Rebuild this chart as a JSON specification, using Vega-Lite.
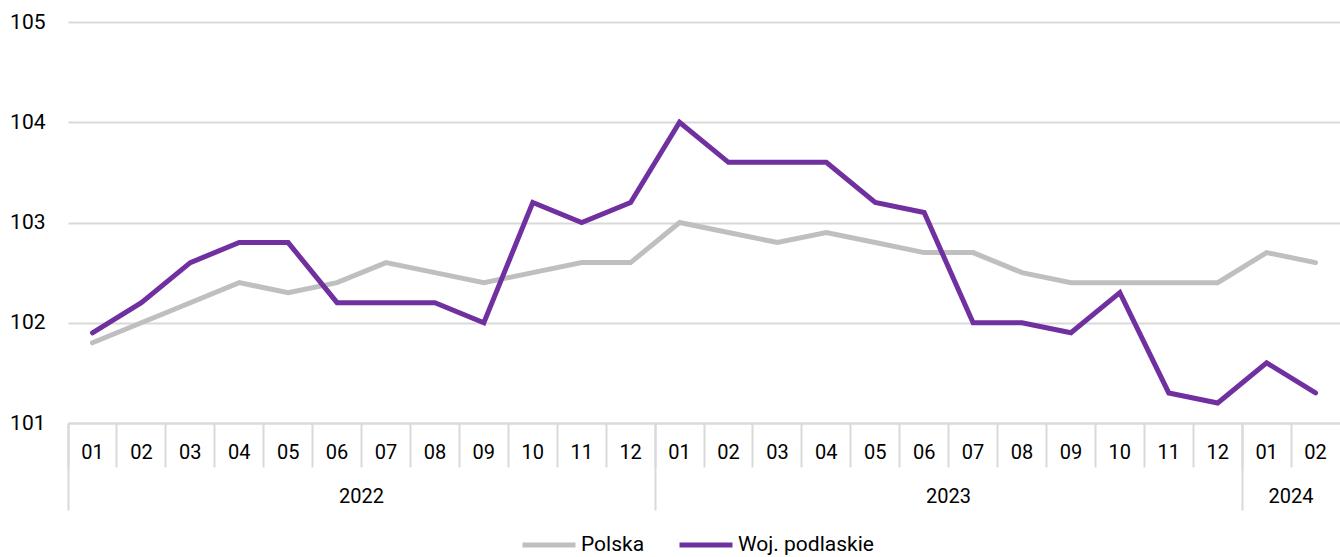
{
  "$schema": "https://vega.github.io/schema/vega-lite/v6.json",
  "autosize": "none",
  "width": 1272,
  "height": 401,
  "padding": {"left": 68, "top": 22, "right": 0, "bottom": 134},
  "background": "white",
  "config": {
    "font": "Roboto",
    "view": {"stroke": null},
    "axis": {"labelFont": "Roboto", "labelColor": "#000000"}
  },
  "data": {
    "values": [
      {"period": "2022-01", "series": "Polska", "value": 101.8},
      {"period": "2022-02", "series": "Polska", "value": 102.0},
      {"period": "2022-03", "series": "Polska", "value": 102.2},
      {"period": "2022-04", "series": "Polska", "value": 102.4},
      {"period": "2022-05", "series": "Polska", "value": 102.3},
      {"period": "2022-06", "series": "Polska", "value": 102.4},
      {"period": "2022-07", "series": "Polska", "value": 102.6},
      {"period": "2022-08", "series": "Polska", "value": 102.5},
      {"period": "2022-09", "series": "Polska", "value": 102.4},
      {"period": "2022-10", "series": "Polska", "value": 102.5},
      {"period": "2022-11", "series": "Polska", "value": 102.6},
      {"period": "2022-12", "series": "Polska", "value": 102.6},
      {"period": "2023-01", "series": "Polska", "value": 103.0},
      {"period": "2023-02", "series": "Polska", "value": 102.9},
      {"period": "2023-03", "series": "Polska", "value": 102.8},
      {"period": "2023-04", "series": "Polska", "value": 102.9},
      {"period": "2023-05", "series": "Polska", "value": 102.8},
      {"period": "2023-06", "series": "Polska", "value": 102.7},
      {"period": "2023-07", "series": "Polska", "value": 102.7},
      {"period": "2023-08", "series": "Polska", "value": 102.5},
      {"period": "2023-09", "series": "Polska", "value": 102.4},
      {"period": "2023-10", "series": "Polska", "value": 102.4},
      {"period": "2023-11", "series": "Polska", "value": 102.4},
      {"period": "2023-12", "series": "Polska", "value": 102.4},
      {"period": "2024-01", "series": "Polska", "value": 102.7},
      {"period": "2024-02", "series": "Polska", "value": 102.6},
      {"period": "2022-01", "series": "Woj. podlaskie", "value": 101.9},
      {"period": "2022-02", "series": "Woj. podlaskie", "value": 102.2},
      {"period": "2022-03", "series": "Woj. podlaskie", "value": 102.6},
      {"period": "2022-04", "series": "Woj. podlaskie", "value": 102.8},
      {"period": "2022-05", "series": "Woj. podlaskie", "value": 102.8},
      {"period": "2022-06", "series": "Woj. podlaskie", "value": 102.2},
      {"period": "2022-07", "series": "Woj. podlaskie", "value": 102.2},
      {"period": "2022-08", "series": "Woj. podlaskie", "value": 102.2},
      {"period": "2022-09", "series": "Woj. podlaskie", "value": 102.0},
      {"period": "2022-10", "series": "Woj. podlaskie", "value": 103.2},
      {"period": "2022-11", "series": "Woj. podlaskie", "value": 103.0},
      {"period": "2022-12", "series": "Woj. podlaskie", "value": 103.2},
      {"period": "2023-01", "series": "Woj. podlaskie", "value": 104.0},
      {"period": "2023-02", "series": "Woj. podlaskie", "value": 103.6},
      {"period": "2023-03", "series": "Woj. podlaskie", "value": 103.6},
      {"period": "2023-04", "series": "Woj. podlaskie", "value": 103.6},
      {"period": "2023-05", "series": "Woj. podlaskie", "value": 103.2},
      {"period": "2023-06", "series": "Woj. podlaskie", "value": 103.1},
      {"period": "2023-07", "series": "Woj. podlaskie", "value": 102.0},
      {"period": "2023-08", "series": "Woj. podlaskie", "value": 102.0},
      {"period": "2023-09", "series": "Woj. podlaskie", "value": 101.9},
      {"period": "2023-10", "series": "Woj. podlaskie", "value": 102.3},
      {"period": "2023-11", "series": "Woj. podlaskie", "value": 101.3},
      {"period": "2023-12", "series": "Woj. podlaskie", "value": 101.2},
      {"period": "2024-01", "series": "Woj. podlaskie", "value": 101.6},
      {"period": "2024-02", "series": "Woj. podlaskie", "value": 101.3}
    ]
  },
  "resolve": {"axis": {"x": "independent"}},
  "layer": [
    {
      "mark": {"type": "line", "strokeWidth": 5, "strokeCap": "round"},
      "encoding": {
        "x": {
          "field": "period", "type": "ordinal", "sort": null,
          "scale": {"type": "band", "paddingInner": 0, "paddingOuter": 0},
          "axis": {
            "orient": "bottom", "title": null, "ticks": false, "grid": false,
            "domain": true, "domainColor": "#d9d9d9", "domainWidth": 2,
            "labelAngle": 0, "labelFontSize": 20, "labelBaseline": "middle",
            "labelPadding": 29, "labelExpr": "substring(datum.label, 5)"
          }
        },
        "y": {
          "field": "value", "type": "quantitative",
          "scale": {"domain": [101, 105], "nice": false, "zero": false},
          "axis": {
            "title": null, "values": [101, 102, 103, 104, 105], "ticks": false,
            "domain": false, "grid": true, "gridColor": "#d9d9d9", "gridWidth": 2,
            "labelFontSize": 21, "labelPadding": 23
          }
        },
        "color": {
          "field": "series", "type": "nominal",
          "scale": {"domain": ["Polska", "Woj. podlaskie"], "range": ["#bfbfbf", "#7030a0"]},
          "legend": {
            "title": null, "orient": "none", "direction": "horizontal",
            "legendX": 452, "legendY": 494,
            "symbolType": "stroke", "symbolSize": 2809, "symbolStrokeWidth": 5,
            "labelFontSize": 21, "labelOffset": 3, "columnPadding": 24, "padding": 0,
            "labelBaseline": "middle"
          }
        }
      }
    },
    {
      "mark": {"type": "point", "opacity": 0},
      "encoding": {
        "x": {
          "field": "period", "type": "ordinal", "sort": null,
          "axis": {
            "orient": "bottom", "title": null, "labels": false, "domain": false, "grid": false,
            "ticks": true, "tickSize": 44, "tickColor": "#d9d9d9", "tickWidth": 2,
            "bandPosition": 0
          }
        }
      }
    },
    {
      "mark": {"type": "point", "opacity": 0},
      "encoding": {
        "x": {
          "field": "period", "type": "ordinal", "sort": null,
          "axis": {
            "orient": "bottom", "title": null, "labels": false, "domain": false, "grid": false,
            "ticks": true, "tickSize": 87, "tickColor": "#d9d9d9", "tickWidth": 2,
            "bandPosition": 0, "values": ["2022-01", "2023-01", "2024-01"]
          }
        }
      }
    },
    {
      "mark": {"type": "point", "opacity": 0},
      "encoding": {
        "x": {
          "field": "period", "type": "ordinal", "sort": null,
          "axis": {
            "orient": "bottom", "title": null, "domain": false, "grid": false,
            "ticks": false,
            "values": ["2022-07", "2023-07", "2024-02"],
            "labelAngle": 0, "labelFontSize": 20, "labelBaseline": "middle",
            "labelOffset": -24.5,
            "labelPadding": 73, "labelExpr": "substring(datum.value, 0, 4)"
          }
        }
      }
    }
  ]
}
